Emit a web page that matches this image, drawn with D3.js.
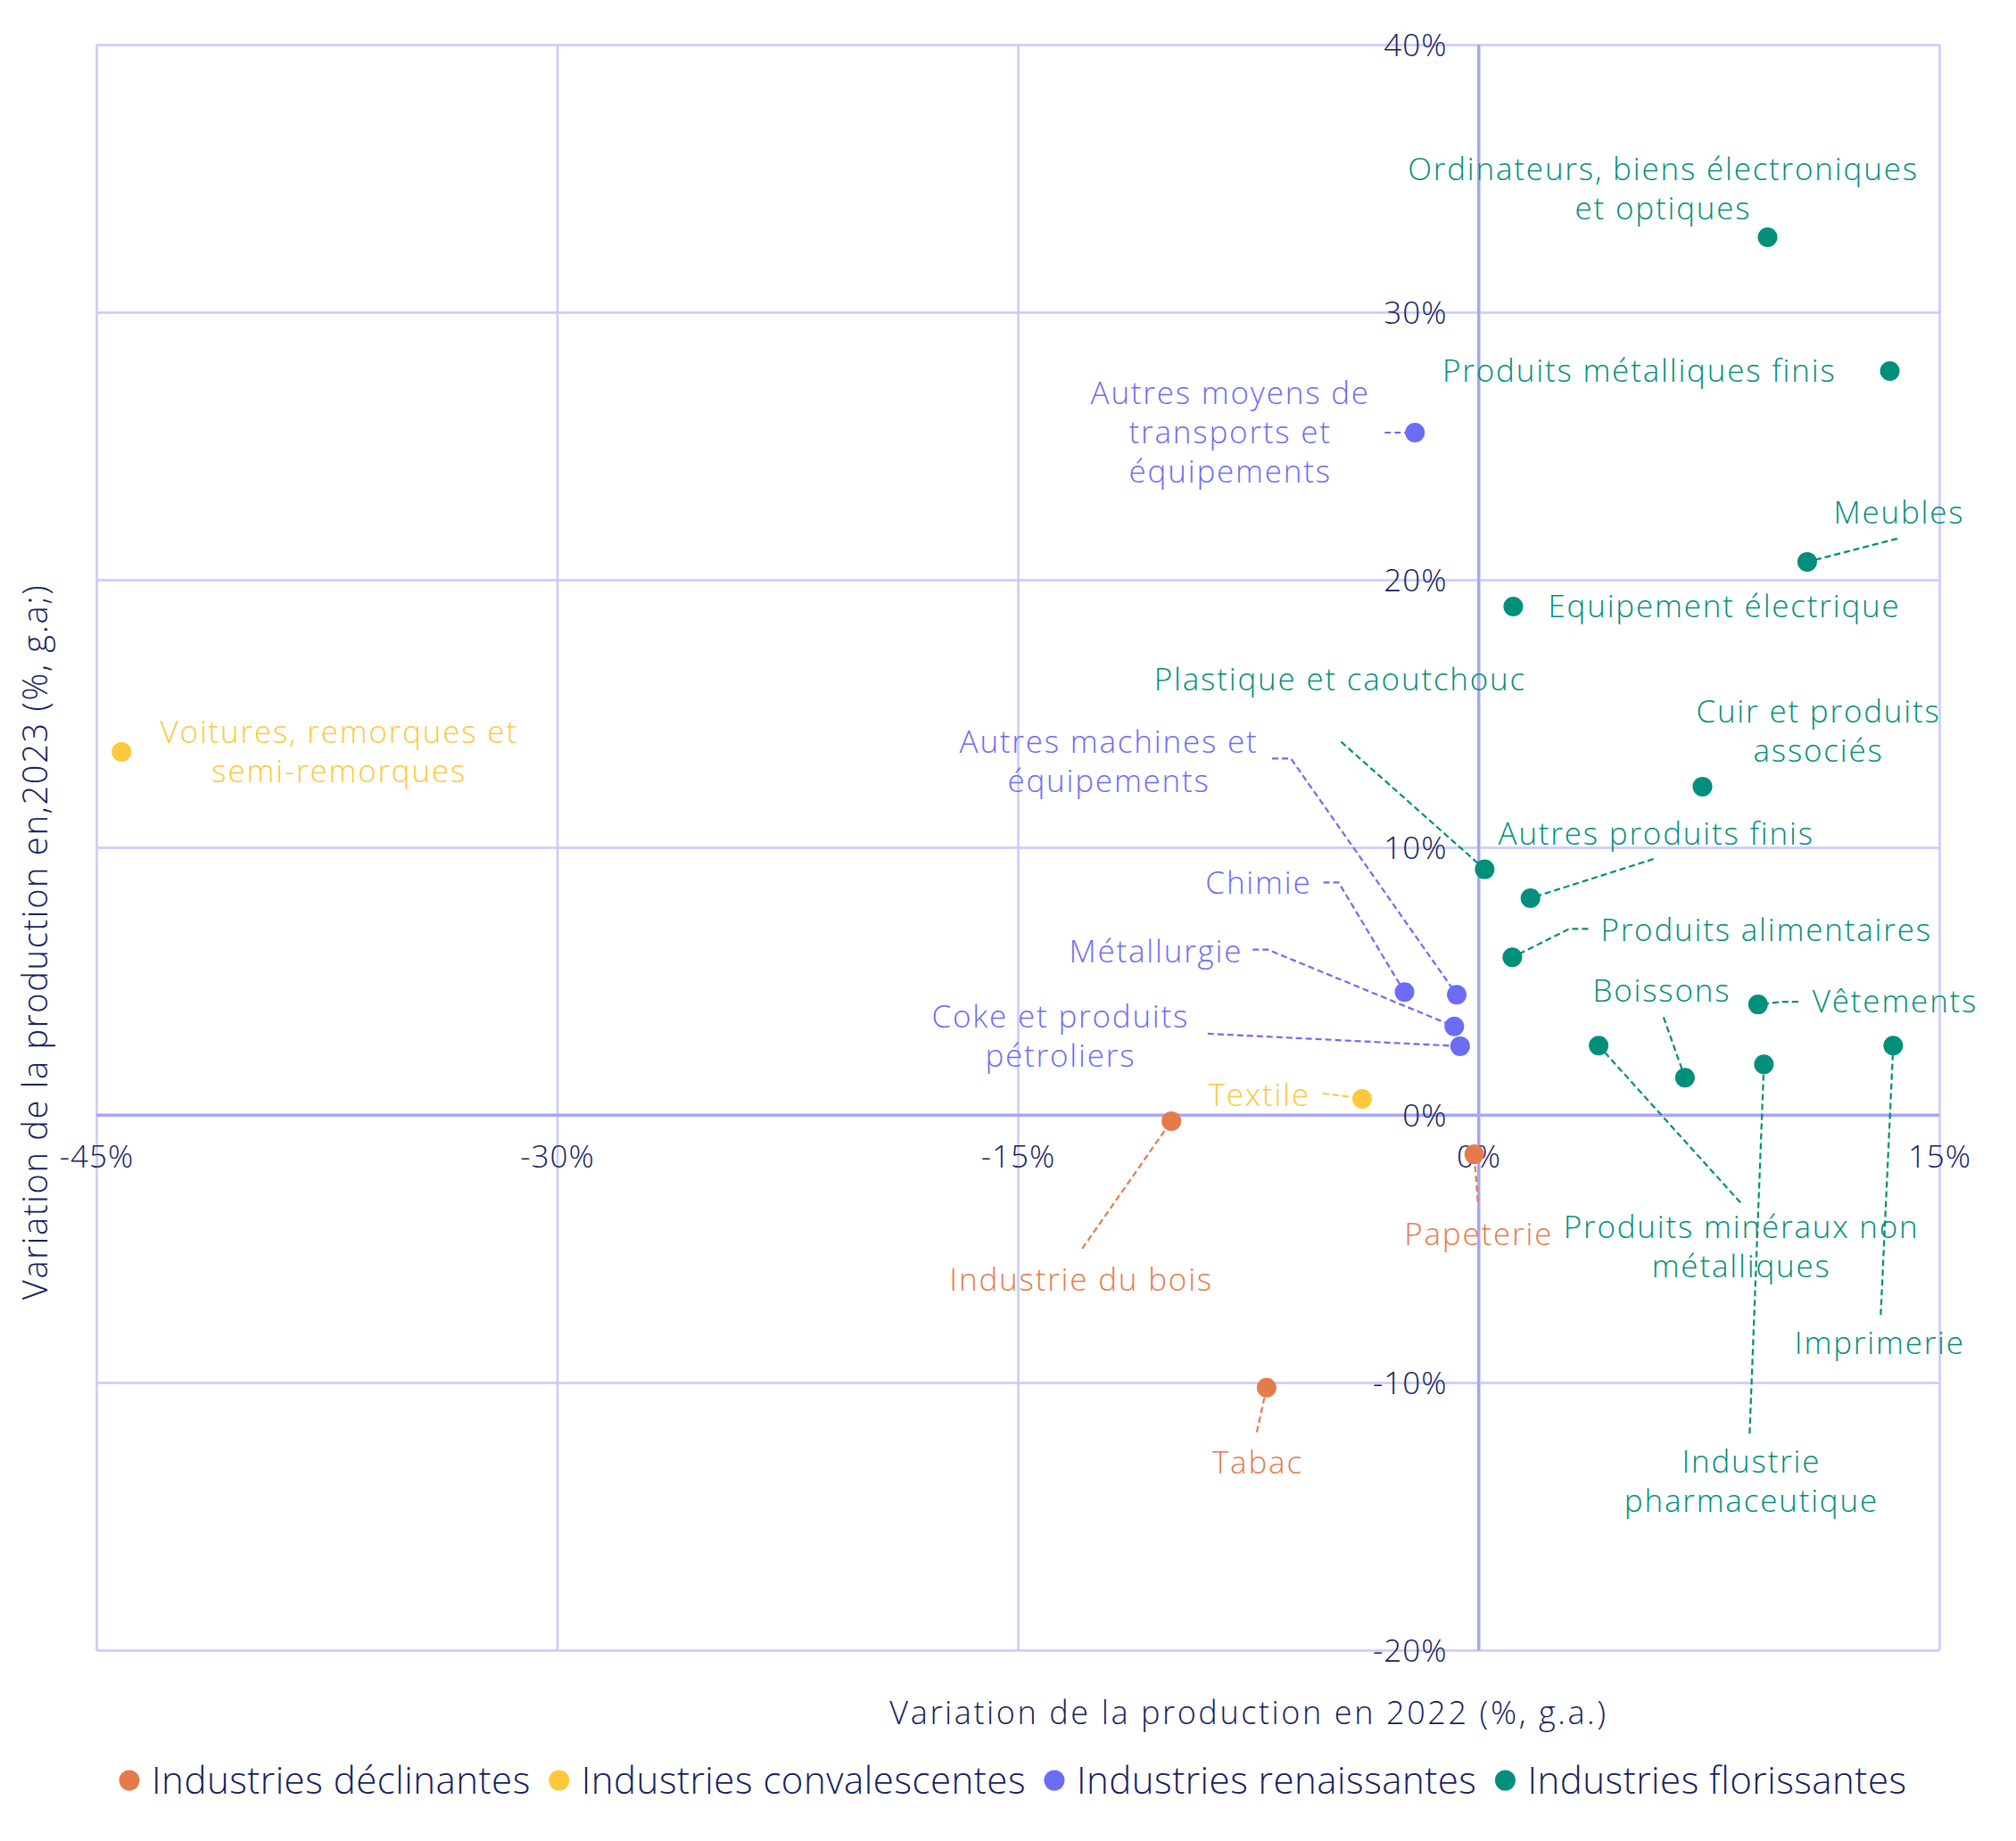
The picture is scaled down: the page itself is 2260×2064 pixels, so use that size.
<!DOCTYPE html>
<html><head><meta charset="utf-8">
<script src="https://cdn.jsdelivr.net/npm/d3@7"></script>
<style>
html,body{margin:0;padding:0;background:#fff;}
svg text{font-family:"Open Sans",Lato,sans-serif;font-weight:300;}
</style></head><body>
<svg id="chart" width="2260" height="2064"></svg>
<script>
// ---------- DATA ----------
const groups = ["Industries déclinantes","Industries convalescentes","Industries renaissantes","Industries florissantes"];
const groupColors = ["#e57b4b","#fdc83b","#6c6cf5","#008f7b"];

const industries = [
  "Ordinateurs, biens électroniques\net optiques",
  "Produits métalliques finis",
  "Autres moyens de\ntransports et\néquipements",
  "Meubles",
  "Equipement électrique",
  "Plastique et caoutchouc",
  "Cuir et produits\nassociés",
  "Autres produits finis",
  "Autres machines et\néquipements",
  "Chimie",
  "Métallurgie",
  "Coke et produits\npétroliers",
  "Produits alimentaires",
  "Boissons",
  "Vêtements",
  "Produits minéraux non\nmétalliques",
  "Industrie\npharmaceutique",
  "Imprimerie",
  "Textile",
  "Industrie du bois",
  "Papeterie",
  "Tabac",
  "Voitures, remorques et\nsemi-remorques"
];
const groupIndex = [3,3,2,3,3,3,3,3,2,2,2,2,3,3,3,3,3,3,1,0,0,0,1];
const prod2022 = [9.41,13.39,-2.07,10.7,1.13,0.2,7.29,1.69,-0.71,-2.41,-0.79,-0.6,1.10,6.72,9.1,3.91,9.29,13.5,-3.79,-10.0,-0.14,-6.9,-44.18];
const prod2023 = [32.8,27.8,25.5,20.67,19.0,9.18,12.27,8.1,4.49,4.59,3.31,2.57,5.89,1.39,4.13,2.59,1.89,2.59,0.6,-0.23,-1.47,-10.19,13.57];

const xTicks = [-45,-30,-15,0,15];
const yTicks = [-20,-10,0,10,20,30,40];
const xTitle = "Variation de la production en 2022 (%, g.a.)";
const yTitle = "Variation de la production en,2023 (%, g.a;)";

// ---------- LABEL LAYOUT (pixel offsets from the point) ----------
const labelLayout = [
  {a:"middle", dx:-118, dy:-54, path:null},
  {a:"end", dx:-62, dy:0, path:null},
  {a:"middle", dx:-208, dy:0, path:[[-34,0],[0,0]]},
  {a:"middle", dx:102, dy:-55, path:[[101,-26],[0,0]]},
  {a:"start", dx:39, dy:0, path:null},
  {a:"middle", dx:-163, dy:-213, path:[[-161,-143],[0,0]]},
  {a:"middle", dx:129, dy:-62, path:null},
  {a:"middle", dx:140, dy:-72, path:[[138,-44],[0,0]]},
  {a:"middle", dx:-391, dy:-262, path:[[-207,-265],[-186,-265],[0,0]]},
  {a:"end", dx:-106, dy:-123, path:[[-91,-123],[-74,-123],[0,0]]},
  {a:"end", dx:-239, dy:-84, path:[[-226,-86],[-209,-86],[0,0]]},
  {a:"middle", dx:-449, dy:-11, path:[[-283,-14],[0,0]]},
  {a:"start", dx:99, dy:-31, path:[[85,-32],[64,-32],[0,0]]},
  {a:"middle", dx:-27, dy:-98, path:[[-24,-68],[0,0]]},
  {a:"start", dx:61, dy:-3, path:[[45,-3],[28,-3],[0,0]]},
  {a:"middle", dx:159, dy:225, path:[[159,176],[0,0]]},
  {a:"middle", dx:-15, dy:467, path:[[-16,414],[0,0]]},
  {a:"middle", dx:-16, dy:333, path:[[-14,302],[0,0]]},
  {a:"end", dx:-60, dy:-4, path:[[-44,-6],[-26,-4],[0,0]]},
  {a:"middle", dx:-102, dy:178, path:[[-100,143],[0,0]]},
  {a:"middle", dx:4, dy:90, path:[[4,53],[0,0]]},
  {a:"middle", dx:-11, dy:84, path:[[-11,50],[0,0]]},
  {a:"middle", dx:243, dy:0, path:null}
];

// ---------- CHART ----------
const textColor = "#14215e";
const gridColor = "#c9c9fc";
const zeroColor = "#a6a6f6";
const fs = 35, lh = 44, ls = "1.8px";

const x = d3.scaleLinear().domain([-45,15]).range([108,2174]);
const y = d3.scaleLinear().domain([-20,40]).range([1850,50]);
const svg = d3.select("#chart");

// grid via axes
const gx = svg.append("g").attr("transform",`translate(0,${y(-20)})`)
  .call(d3.axisBottom(x).tickValues(xTicks).tickSize(-(y(-20)-y(40))).tickFormat(""));
gx.select(".domain").remove();
gx.selectAll(".tick line").attr("stroke",d=>d===0?zeroColor:gridColor).attr("stroke-width",d=>d===0?3:2.5);
const gy = svg.append("g").attr("transform",`translate(${x(-45)},0)`)
  .call(d3.axisLeft(y).tickValues(yTicks).tickSize(-(x(15)-x(-45))).tickFormat(""));
gy.select(".domain").remove();
gy.selectAll(".tick line").attr("stroke",d=>d===0?zeroColor:gridColor).attr("stroke-width",d=>d===0?3:2.5);
svg.append("line").attr("x1",x(0)).attr("x2",x(0)).attr("y1",y(40)).attr("y2",y(-20)).attr("stroke",zeroColor).attr("stroke-width",3);
svg.append("line").attr("x1",x(-45)).attr("x2",x(15)).attr("y1",y(0)).attr("y2",y(0)).attr("stroke",zeroColor).attr("stroke-width",3);

// tick labels through axes at zero lines
const ax = svg.append("g").attr("transform",`translate(0,${y(0)})`)
  .call(d3.axisBottom(x).tickValues(xTicks).tickSize(0).tickPadding(0).tickFormat(d=>d+"%"));
ax.select(".domain").remove();
ax.selectAll("text").attr("y",47).attr("dy","0.35em").attr("font-size",fs).attr("fill",textColor)
  .style("font-family","'Open Sans'").style("font-weight",300).style("letter-spacing","1px");
const ay = svg.append("g").attr("transform",`translate(${x(0)},0)`)
  .call(d3.axisLeft(y).tickValues(yTicks).tickSize(0).tickPadding(0).tickFormat(d=>d+"%"));
ay.select(".domain").remove();
ay.selectAll("text").attr("x",-35).attr("dy","0.35em").attr("font-size",fs).attr("fill",textColor)
  .style("font-family","'Open Sans'").style("font-weight",300).style("letter-spacing","1px");

// data table
const data = industries.map((n,i)=>({name:n, g:groupIndex[i], vx:prod2022[i], vy:prod2023[i], L:labelLayout[i]}));

// leader lines
const lineGen = d3.line();
svg.append("g").selectAll("path").data(data.filter(d=>d.L.path)).join("path")
  .attr("d",d=>lineGen(d.L.path.map(p=>[x(d.vx)+p[0], y(d.vy)+p[1]])))
  .attr("fill","none").attr("stroke",d=>groupColors[d.g]).attr("stroke-width",2.2).attr("stroke-dasharray","7,4");

// points
svg.append("g").selectAll("circle").data(data).join("circle")
  .attr("cx",d=>x(d.vx)).attr("cy",d=>y(d.vy)).attr("r",11).attr("fill",d=>groupColors[d.g]);

// labels
const lab = svg.append("g").selectAll("text").data(data).join("text")
  .attr("text-anchor",d=>d.L.a).attr("fill",d=>groupColors[d.g]).attr("font-size",fs).style("letter-spacing",ls);
lab.each(function(d){
  const lines = d.name.split("\n");
  const t = d3.select(this);
  let cx = x(d.vx)+d.L.dx;
  if (d.L.a==="middle") cx += 1; else if (d.L.a==="end") cx += 2;
  const cy = y(d.vy)+d.L.dy;
  lines.forEach((s,k)=>{
    t.append("tspan").attr("x",cx).attr("y",cy+(k-(lines.length-1)/2)*lh).attr("dy","0.35em").text(s);
  });
});

// axis titles
svg.append("text").attr("x",1400).attr("y",1920).attr("dy","0.35em").attr("text-anchor","middle")
  .attr("font-size",36).attr("fill",textColor).style("letter-spacing","2.6px").text(xTitle);
svg.append("text").attr("transform","translate(40,1056) rotate(-90)").attr("dy","0.35em").attr("text-anchor","middle")
  .attr("font-size",38).attr("fill",textColor).style("letter-spacing","1.7px").text(yTitle);

// legend
const leg = svg.append("g").attr("transform","translate(145,1996)");
let off = 0;
groups.forEach((g,i)=>{
  const it = leg.append("g").attr("transform",`translate(${off},0)`);
  it.append("circle").attr("r",11.5).attr("fill",groupColors[i]);
  const t = it.append("text").attr("x",25).attr("dy","0.35em").attr("font-size",42).attr("fill",textColor)
    .style("letter-spacing","0.5px").text(g);
  off += 25 + t.node().getComputedTextLength() + 32;
});
</script>
</body></html>
